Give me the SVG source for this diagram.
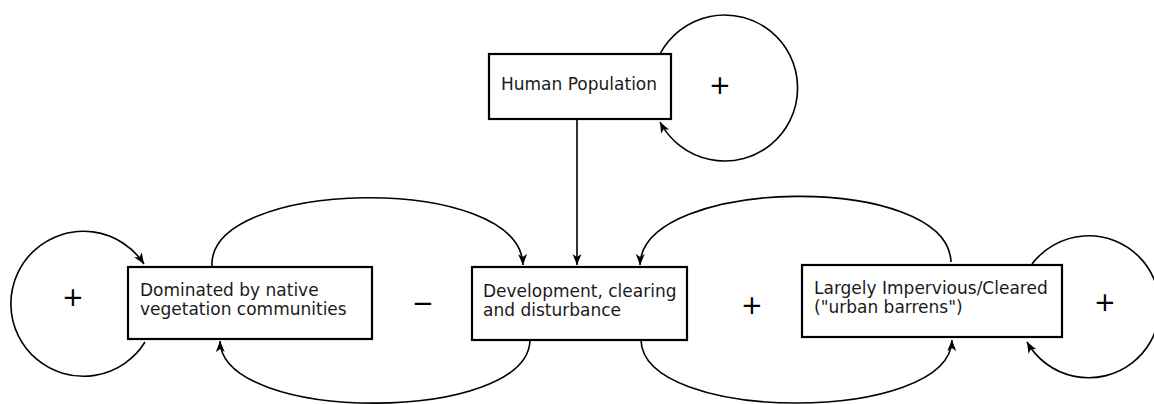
<svg xmlns="http://www.w3.org/2000/svg" width="1154" height="404" viewBox="0 0 1154 404">
<style>
.box{fill:#fff;stroke:#000;stroke-width:2.2}
.lbl{font-family:"DejaVu Sans",sans-serif;font-size:17px;fill:#1a1a1a}
.sign{font-family:"DejaVu Sans",sans-serif;font-size:26px;fill:#000;text-anchor:middle}
.c{fill:none;stroke:#000;stroke-width:1.6}
</style>
<defs>
<marker id="ah" markerUnits="userSpaceOnUse" markerWidth="12" markerHeight="10" refX="11" refY="4.5" orient="auto" viewBox="0 0 12 9">
<path d="M0,0 L11,4.5 L0,9 L3,4.5 z" fill="#000"/>
</marker>
</defs>
<rect width="1154" height="404" fill="#fff"/>
<g id="connectors">
<path class="c" d="M660,54 A73,73 0 1 1 660,122" marker-end="url(#ah)"/>
<path class="c" d="M577,119 L577,265" marker-end="url(#ah)"/>
<path class="c" d="M145,342 A72.5,72.5 0 1 1 144,264" marker-end="url(#ah)"/>
<path class="c" d="M212,267 C206,178 520,172 523,265" marker-end="url(#ah)"/>
<path class="c" d="M951,262 C948,172 642,176 640,265" marker-end="url(#ah)"/>
<path class="c" d="M530,340 C528,424 222,424 220,341" marker-end="url(#ah)"/>
<path class="c" d="M641,340 C643,424 950,424 952,340" marker-end="url(#ah)"/>
<path class="c" d="M1032,264 A71,71 0 1 1 1027,342" marker-end="url(#ah)"/>
</g>
<g id="human">
<rect class="box" x="489" y="54" width="182" height="65"/>
<text class="lbl" x="501" y="90">Human Population</text>
</g>
<g id="native">
<rect class="box" x="128" y="267" width="244" height="72"/>
<text class="lbl" x="140" y="296">Dominated by native</text>
<text class="lbl" x="140" y="315">vegetation communities</text>
</g>
<g id="development">
<rect class="box" x="472" y="267" width="215" height="73"/>
<text class="lbl" x="483" y="297">Development, clearing</text>
<text class="lbl" x="483" y="316">and disturbance</text>
</g>
<g id="impervious">
<rect class="box" x="802" y="265" width="260" height="72"/>
<text class="lbl" x="814" y="294">Largely Impervious/Cleared</text>
<text class="lbl" x="814" y="313">("urban barrens")</text>
</g>
<g id="signs">
<text class="sign" x="720" y="94">+</text>
<text class="sign" x="73" y="306">+</text>
<text class="sign" x="423" y="312">−</text>
<text class="sign" x="752" y="314">+</text>
<text class="sign" x="1105" y="311">+</text>
</g>
</svg>
